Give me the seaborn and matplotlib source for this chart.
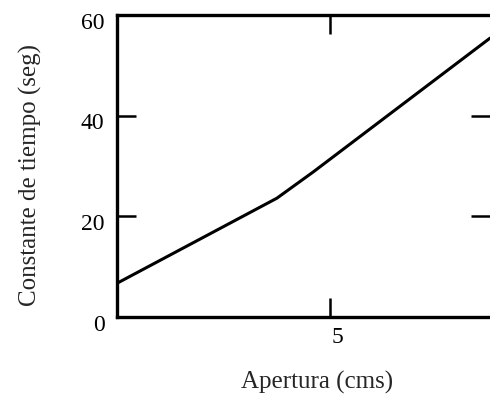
import matplotlib
matplotlib.use("Agg")
import matplotlib.pyplot as plt
import matplotlib.transforms as mtransforms
import seaborn as sns
import pandas as pd

apertura = [1.0, 4.0, 4.68, 8.0]
constante = [6.7, 23.6, 28.8, 55.4]
y_ticks = [0, 20, 40, 60]
x_ticks = [5]

sns.set_style("ticks")
plt.rcParams['font.family'] = ['Liberation Serif', 'DejaVu Serif']

fig = plt.figure(figsize=(4.9, 3.94), dpi=100)
ax = fig.add_axes([117/490, (394-317)/394, 1.0 - 117/490, (317-15)/394])

df = pd.DataFrame({"x": apertura, "y": constante})
sns.lineplot(data=df, x="x", y="y", ax=ax, color="black", linewidth=2.2)

ax.set_xlim(1, 8)
ax.set_ylim(0, 60)
ax.set_xticks(x_ticks)
ax.set_xticklabels([str(v) for v in x_ticks])
ax.set_yticks(y_ticks)
ax.set_yticklabels([str(v) for v in y_ticks])

for s in ["left", "top", "bottom"]:
    ax.spines[s].set_visible(True)
    ax.spines[s].set_linewidth(2.4)
    ax.spines[s].set_color("black")
ax.spines["right"].set_visible(False)

ax.tick_params(axis="both", direction="in", length=14, width=1.8, color="black",
               labelsize=17, labelcolor="black")
ax.tick_params(axis="x", top=True, pad=7)
ax.tick_params(axis="y", right=True, pad=9)

# small offsets of tick labels as in the reference
dy = mtransforms.ScaledTranslation(0, -4/72, fig.dpi_scale_trans)
for lbl in ax.get_yticklabels():
    lbl.set_transform(lbl.get_transform() + dy)
dx = mtransforms.ScaledTranslation(5/72, 0, fig.dpi_scale_trans)
for lbl in ax.get_xticklabels():
    lbl.set_transform(lbl.get_transform() + dx)

ax.set_xlabel("Apertura (cms)", fontsize=18)
ax.set_ylabel("Constante de tiempo (seg)", fontsize=18)
ax.xaxis.set_label_coords((317 - 117) / 373, -(371 - 317) / 302)
ax.yaxis.set_label_coords(-(117 - 42) / 373, (317 - 175) / 302)

fig.savefig("out.png", dpi=100)
